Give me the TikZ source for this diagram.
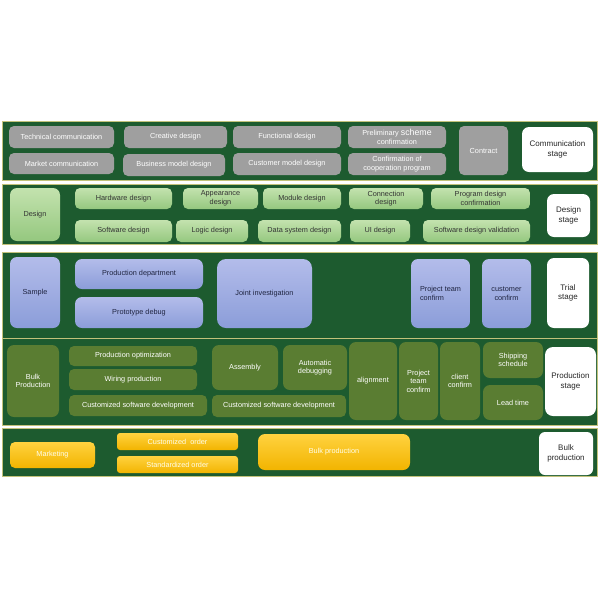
\documentclass[tikz,border=0pt]{standalone}
\usepackage{fontspec}
\setmainfont{Liberation Sans}
\definecolor{bandgreen}{HTML}{1D5B2F}
\definecolor{bandline}{HTML}{C2C27A}
\definecolor{boxgray}{HTML}{9F9F9F}
\definecolor{olive}{HTML}{5A7D32}
\definecolor{greentop}{HTML}{C3E2AE}
\definecolor{greenbot}{HTML}{95C87F}
\definecolor{bluetop}{HTML}{B3BCEA}
\definecolor{bluebot}{HTML}{8B9DD9}
\definecolor{bluetext}{HTML}{1F2440}
\definecolor{yellowtop}{HTML}{FFD23F}
\definecolor{yellowbot}{HTML}{F2B400}
\tikzset{
	band/.style={draw=bandline,fill=bandgreen,line width=0.8pt},
	box/.style={rounded corners=5pt,inner sep=1pt,outer sep=0pt,align=center,
		font=\fontsize{7.3}{8.6}\selectfont},
	sz/.style 2 args={minimum width=#1,minimum height=#2},
	graybox/.style={box,fill=boxgray,text=white},
	greenbox/.style={box,top color=greentop,bottom color=greenbot,text=black!80},
	bluebox/.style={box,top color=bluetop,bottom color=bluebot,text=bluetext},
	olivebox/.style={box,fill=olive,text=white},
	yellowbox/.style={box,top color=yellowtop,bottom color=yellowbot,text=yellow!8!white},
	stagebox/.style={box,fill=white,text=black!85,font=\fontsize{8}{9.6}\selectfont},
}
\begin{document}
\begin{tikzpicture}[x=1pt,y=-1pt]
			\useasboundingbox[fill=white] (0,0) rectangle (600,600);
			% bands
			\path[band] (2,121) rectangle (597,180);
			\path[band] (2,184) rectangle (597,244);
			\path[band] (2,252) rectangle (597,338);
			\path[band] (2,338) rectangle (597,425);
			\path[band] (2,428) rectangle (597,476);
			
			\begin{scope}[every node/.style={graybox}]
			\node[sz={105}{22}] (tech) at (61.5,137) {Technical communication};
			\node[sz={105}{21}] (market) at (61.5,163.5) {Market communication};
			\node[sz={103}{22}] (creative) at (175.5,137) {Creative design};
			\node[sz={102}{22}] (business) at (174,165) {Business model design};
			\node[sz={108}{22}] (functional) at (287,137) {Functional design};
			\node[sz={108}{22}] (custmodel) at (287,164) {Customer model design};
			\node[sz={98}{22}] (prelim) at (397,137) {Preliminary {\fontsize{8.8}{8.6}\selectfont scheme}\\confirmation};
			\node[sz={98}{22}] (coop) at (397,164) {Confirmation of\\cooperation program};
			\node[sz={49}{49}] (contract) at (483.5,150.5) {Contract};
			\end{scope}
			\node[stagebox,sz={71}{45},rounded corners=7pt] (commstage) at (557.5,149.5) {Communication\\stage};
			
			\begin{scope}[every node/.style={greenbox}]
			\node[sz={50}{53},rounded corners=7pt] (design) at (35,214.5) {Design};
			\node[sz={97}{21}] (hardware) at (123.5,198.5) {Hardware design};
			\node[sz={75}{21}] (appearance) at (220.5,198.5) {Appearance\\design};
			\node[sz={78}{21}] (module) at (302,198.5) {Module design};
			\node[sz={74}{21}] (connection) at (386,198.5) {Connection\\design};
			\node[sz={99}{21}] (program) at (480.5,198.5) {Program design\\confirmation};
			\node[sz={97}{22}] (software) at (123.5,231) {Software design};
			\node[sz={72}{22}] (logic) at (212,231) {Logic design};
			\node[sz={83}{22}] (datasys) at (299.5,231) {Data system design};
			\node[sz={60}{22}] (ui) at (380,231) {UI design};
			\node[sz={107}{22}] (swvalid) at (476.5,231) {Software design validation};
			\end{scope}
			\node[stagebox,sz={43}{43},rounded corners=7pt] (designstage) at (568.5,215.5) {Design\\stage};
			
			\begin{scope}[every node/.style={bluebox,rounded corners=7pt}]
			\node[sz={50}{71}] (sample) at (35,292.5) {Sample};
			\node[sz={128}{30}] (proddept) at (139,274) {Production department};
			\node[sz={128}{31}] (prototype) at (139,312.5) {Prototype debug};
			\node[sz={95}{69},rounded corners=9pt] (joint) at (264.5,293.5) {Joint investigation};
			\node[sz={59}{69},align=left] (teamconfirm) at (440.5,293.5) {Project team\\confirm};
			\node[sz={49}{69}] (custconfirm) at (506.5,293.5) {customer\\confirm};
			\end{scope}
			\node[stagebox,sz={42}{70},rounded corners=7pt] (trialstage) at (568,293) {Trial\\stage};
			
			\begin{scope}[every node/.style={olivebox}]
			\node[sz={52}{72},rounded corners=7pt] (bulk) at (33,381) {Bulk\\Production};
			\node[sz={128}{20}] (prodopt) at (133,356) {Production optimization};
			\node[sz={128}{21}] (wiring) at (133,379.5) {Wiring production};
			\node[sz={138}{21}] (custsw) at (138,405.5) {Customized software development};
			\node[sz={66}{45},rounded corners=7pt] (assembly) at (245,367.5) {Assembly};
			\node[sz={64}{45},rounded corners=7pt] (autodebug) at (315,367.5) {Automatic\\debugging};
			\node[sz={134}{22}] (custswb) at (279,406) {Customized software development};
			\node[sz={48}{78},rounded corners=7pt] (alignment) at (373,381) {alignment};
			\node[sz={39}{78},rounded corners=7pt] (teamconfirmb) at (418.5,381) {Project\\team\\confirm};
			\node[sz={40}{78},rounded corners=7pt] (clientconfirm) at (460,381) {client\\confirm};
			\node[sz={60}{36},rounded corners=7pt] (shipping) at (513,360) {Shipping\\schedule};
			\node[sz={60}{35},rounded corners=7pt] (leadtime) at (513,402.5) {Lead time};
			\end{scope}
			\node[stagebox,sz={51}{69},rounded corners=8pt] (prodstage) at (570.5,381.5) {Production\\stage};
			
			\begin{scope}[every node/.style={yellowbox}]
			\node[sz={85}{26}] (marketing) at (52.5,455) {Marketing};
			\node[sz={121}{17},rounded corners=3pt] (custorder) at (177.5,441.5) {Customized\ \ order};
			\node[sz={121}{17},rounded corners=3pt] (stdorder) at (177.5,464.5) {Standardized order};
			\node[sz={152}{36},rounded corners=7pt] (bulkprod) at (334,452) {Bulk production};
			\end{scope}
			\node[stagebox,sz={54}{43},rounded corners=6pt] (bulkstage) at (566,453.5) {Bulk\\production};
\end{tikzpicture}
\end{document}
